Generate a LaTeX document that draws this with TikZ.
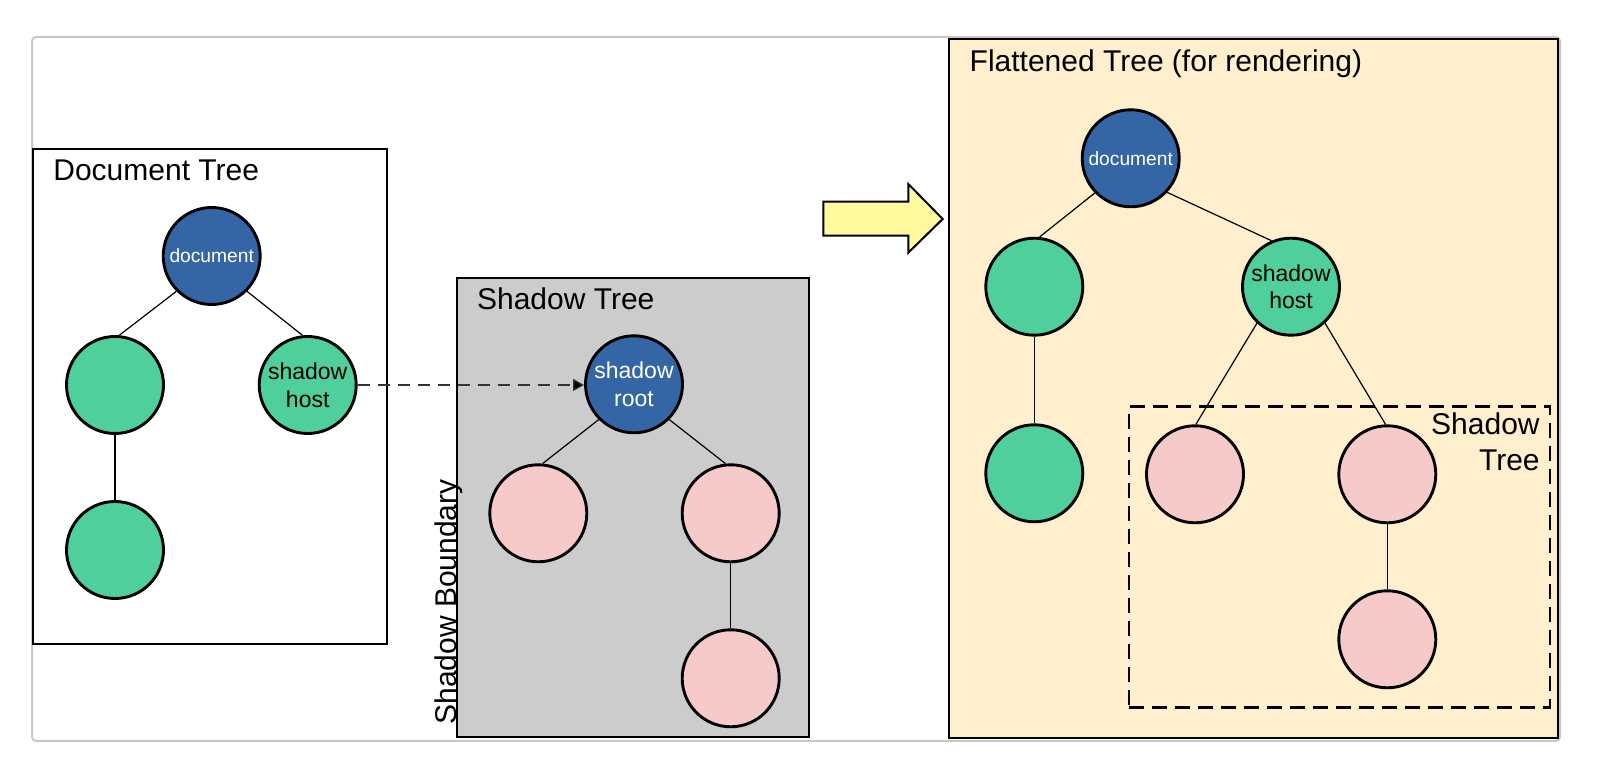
\documentclass[tikz,border=0pt]{standalone}
\usepackage{fontspec}
\setmainfont{Liberation Sans}
\usetikzlibrary{arrows.meta,fit}
\definecolor{docblue}{HTML}{3465A4}
\definecolor{nodegreen}{HTML}{4ECF9C}
\definecolor{nodepink}{HTML}{F7CACA}
\definecolor{shadowgray}{HTML}{CCCCCC}
\definecolor{flatbg}{HTML}{FFEFCC}
\definecolor{arrowyellow}{HTML}{FFFA9E}
\definecolor{framegray}{HTML}{C8C8C8}
\definecolor{dashgray}{HTML}{333333}
\begin{document}
\begin{tikzpicture}[x=0.5pt,y=-0.5pt,
  treenode/.style={circle, draw=black, line width=1.45pt, minimum size=48.5pt, inner sep=0pt, align=center},
  smalllabel/.style={font=\fontsize{9.6pt}{11pt}\selectfont},
  biglabel/.style={font=\fontsize{11.5pt}{13.85pt}\selectfont},
  bluenode/.style={treenode, fill=docblue, text=white},
  greennode/.style={treenode, fill=nodegreen, text=black},
  pinknode/.style={treenode, fill=nodepink},
  panel/.style={draw=black, line width=1pt, inner sep=0pt},
  title/.style={font=\fontsize{15pt}{18pt}\selectfont, inner sep=0pt},
  treeedge/.style={line width=0.6pt},
  hostlink/.style={draw=dashgray, line width=0.65pt, dash pattern=on 6pt off 4pt, -{Triangle[length=5.5pt,width=6pt,fill=black]}},
  shadowframe/.style={draw=black, line width=1.25pt, dash pattern=on 7.5pt off 4pt, inner sep=0pt}
]
\useasboundingbox (0,0) rectangle (1602,758);

% outer frame
\draw[framegray, line width=1pt, rounded corners=2pt] (32,37) rectangle (1560,741);

% panels
\node[panel, fill=white, fit={(33.3,149) (386.7,644)}] (docpanel) {};
\node[panel, fill=shadowgray, fit={(456.7,277.7) (809,736.7)}] (shadowpanel) {};
\node[panel, fill=flatbg, fit={(949,39) (1558.3,738)}] (flatpanel) {};

% titles
\node[title, anchor=base west] (doctitle) at (53,181) {Document Tree};
\node[title, anchor=base west] (shadowtitle) at (476.7,310) {Shadow Tree};
\node[title, anchor=base west] (flattitle) at (969.3,71.7) {Flattened Tree (for rendering)};
\node[title, anchor=base west, rotate=90] (boundary) at (456.7,725) {Shadow Boundary};

% yellow arrow
\draw[fill=arrowyellow, line width=1pt, line join=miter]
  (823.3,201.7) -- (908.3,201.7) -- (908.3,184) -- (942.7,219) -- (908.3,252.7) -- (908.3,235.7) -- (823.3,235.7) -- cycle;

% dashed shadow region in flattened tree
\node[shadowframe, fit={(1129,406.7) (1550,707.3)}] (flatshadow) {};
\node[title, anchor=base east] (flatshadowA) at (1540,435) {Shadow};
\node[title, anchor=base east] (flatshadowB) at (1540,471) {Tree};

% document tree
\node[bluenode, smalllabel] (doc1) at (211.7,256) {document};
\node[greennode] (g1a) at (115,385) {};
\node[greennode, biglabel] (host1) at (307.7,385) {shadow\\host};
\node[greennode] (g1b) at (115,550) {};
\draw[treeedge] (doc1.225) -- (g1a.85);
\draw[treeedge] (doc1.315) -- (host1.96);
\draw[treeedge] (g1a.south) -- (g1b.north);

% shadow tree
\node[bluenode, biglabel] (root) at (634,384.3) {shadow\\root};
\node[pinknode] (p2a) at (538.3,513.3) {};
\node[pinknode] (p2b) at (730.7,513.3) {};
\node[pinknode] (p2c) at (730.7,678.3) {};
\draw[treeedge] (root.225) -- (p2a.85);
\draw[treeedge] (root.315) -- (p2b.96);
\draw[treeedge] (p2b.south) -- (p2c.north);

% host -> root
\draw[hostlink] (host1.east) -- (host1.east -| root.west);

% flattened tree
\node[bluenode, smalllabel] (doc3) at (1130.7,158.3) {document};
\node[greennode] (g3a) at (1034.3,286.7) {};
\node[greennode, biglabel] (host3) at (1291,286.7) {shadow\\host};
\node[greennode] (g3b) at (1034.3,473.3) {};
\node[pinknode] (p3a) at (1195,474.3) {};
\node[pinknode] (p3b) at (1387.3,474.3) {};
\node[pinknode] (p3c) at (1387.3,639.3) {};
\draw[treeedge] (doc3.224) -- (g3a.84);
\draw[treeedge] (doc3.317) -- (host3.113);
\draw[treeedge] (g3a.south) -- (g3b.north);
\draw[treeedge] (host3.227) -- (p3a.89);
\draw[treeedge] (host3.313) -- (p3b.92);
\draw[treeedge] (p3b.south) -- (p3c.north);
\end{tikzpicture}
\end{document}
